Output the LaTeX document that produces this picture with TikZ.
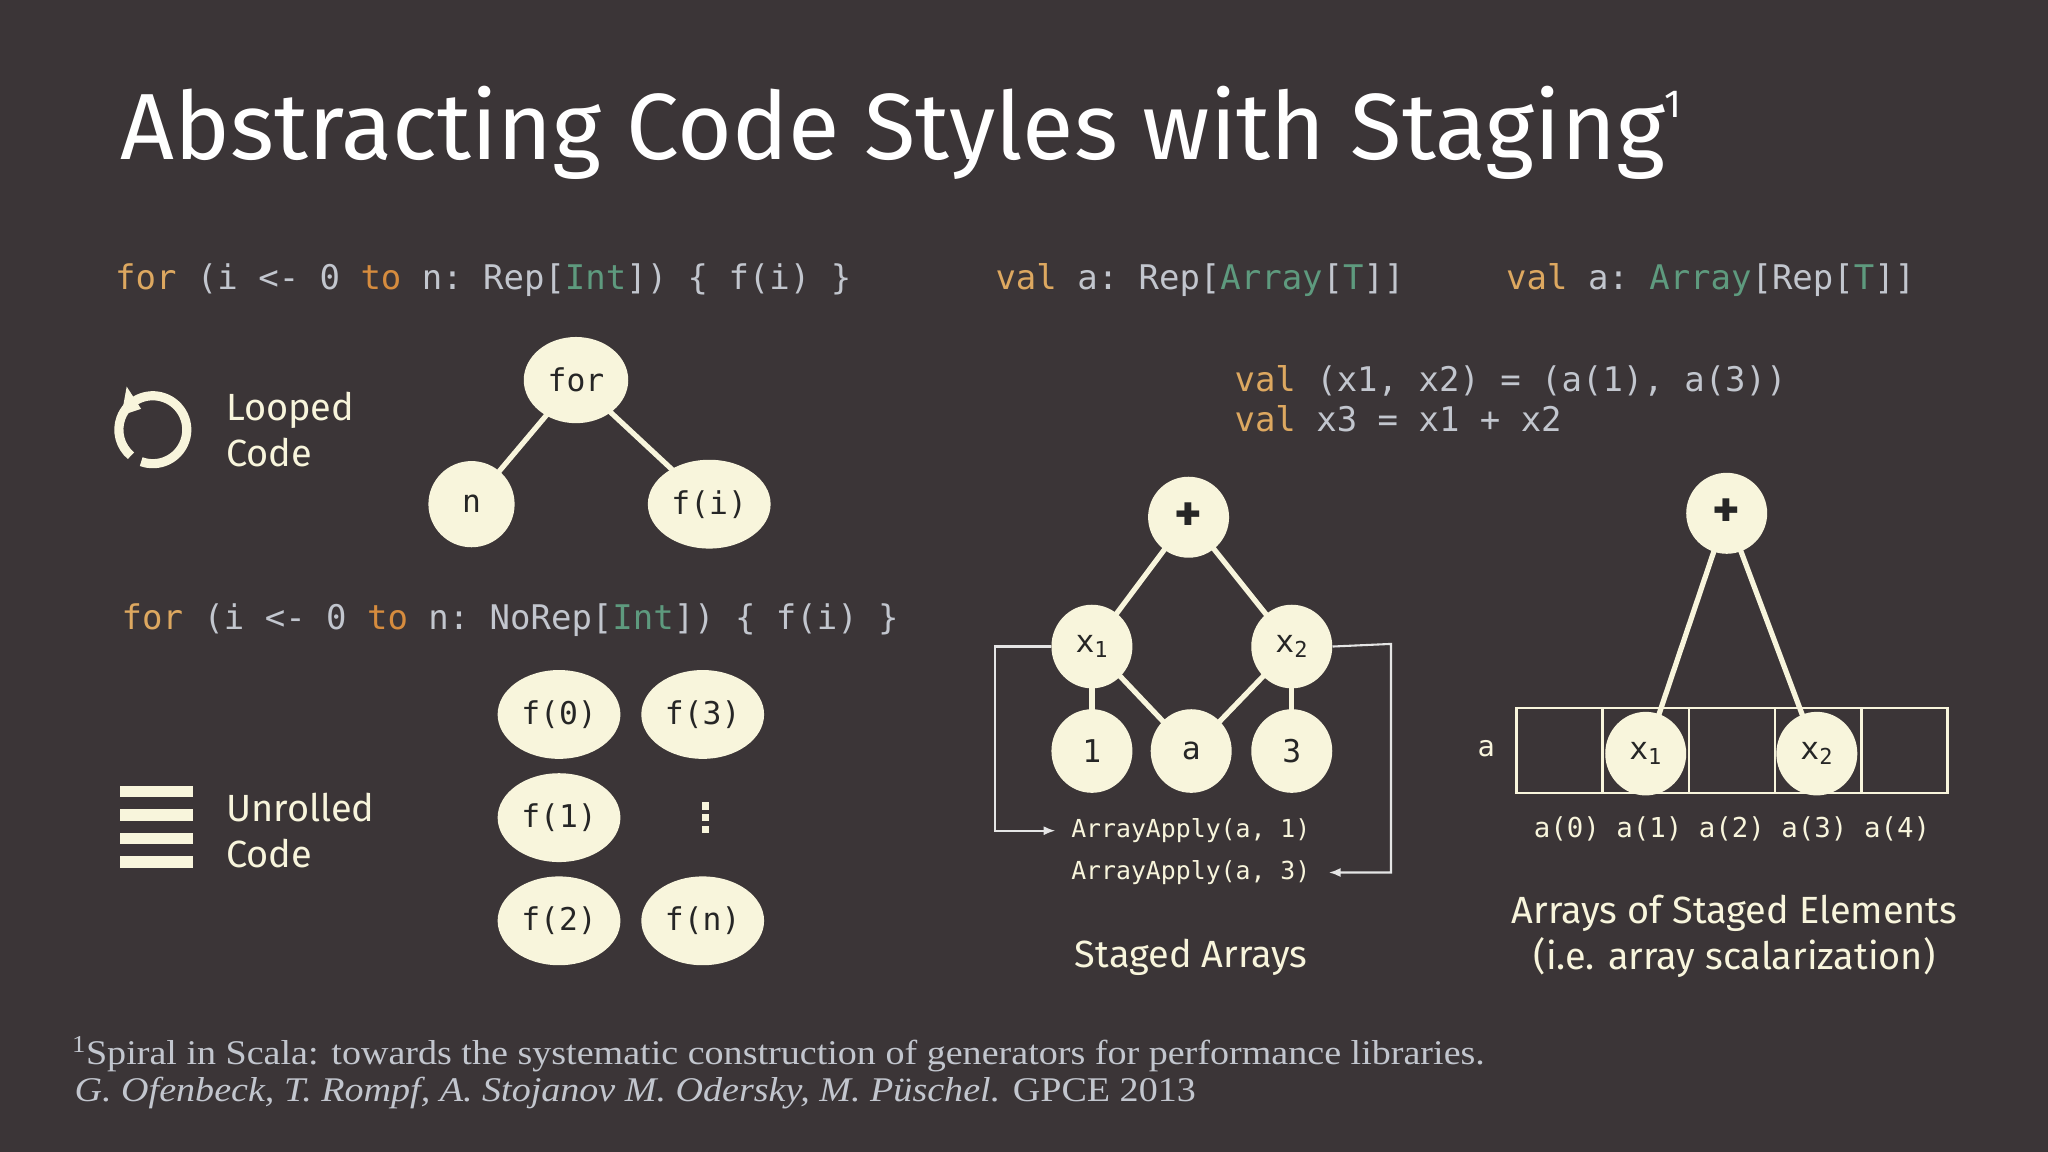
\documentclass[tikz,border=0pt]{standalone}
\usepackage{fontspec}
\setmainfont{Liberation Serif}
\setsansfont{Fira Sans}
\setmonofont{DejaVu Sans Mono}
\newfontfamily\fnfont[FakeStretch=1.1]{Liberation Serif}
\usetikzlibrary{arrows.meta,shapes.geometric}
\pgfdeclarelayer{bgl}
\pgfsetlayers{bgl,main}
\definecolor{bg}{HTML}{3B3537}
\definecolor{cream}{HTML}{F8F5DC}
\definecolor{kw}{HTML}{DDA860}
\definecolor{kw2}{HTML}{D68C3E}
\definecolor{gr}{HTML}{5E9A7E}
\definecolor{cd}{HTML}{C2C6CE}
\newcommand{\K}[1]{\textcolor{kw}{#1}}
\newcommand{\KT}[1]{\textcolor{kw2}{#1}}
\newcommand{\G}[1]{\textcolor{gr}{#1}}
\tikzset{
 nd/.style={ellipse, fill=cream, inner sep=0pt, text=black!85, font=\ttfamily\fontsize{24}{24}\selectfont},
 code/.style={anchor=base west, text=cd, font=\ttfamily\fontsize{26}{26}\selectfont, inner sep=0pt},
 lbl/.style={anchor=west, text=cream, font=\sffamily\fontsize{29}{35}\selectfont, align=left, inner sep=0pt},
 edge/.style={cream, line width=4pt},
 wire/.style={white!90!black, line width=1.6pt}
}
\begin{document}
\begin{tikzpicture}[x=1pt,y=-1pt]
\begin{pgfonlayer}{bgl}
\fill[bg] (0,0) rectangle (1568,882);
\end{pgfonlayer}
\useasboundingbox (0,0) rectangle (1568,882);
\node[anchor=base west, text=white, font=\sffamily\fontsize{72}{72}\selectfont, inner sep=0pt] (title) at (92,122) {Abstracting Code Styles with Staging\raisebox{0.45em}{\fontsize{30}{30}\selectfont 1}};
% left code
\node[code] (c1) at (88,222) {\K{for} (i <- 0 \KT{to} n: Rep[\G{Int}]) \{ f(i) \}};
\node[code] (c2) at (93,482) {\K{for} (i <- 0 \KT{to} n: NoRep[\G{Int}]) \{ f(i) \}};
% loop icon
\draw[cream, line width=7pt] (117,329) ++(110:26) arc[start angle=110, end angle=-230, radius=26];
\fill[cream] (97,296) -- (108,313) -- (93,318) -- cycle;
\node[lbl] (looped) at (173,329) {Looped\\Code};
% unrolled icon
\foreach \yy in {606,624,642,660}{\fill[cream] (92,\yy-4.5) rectangle (148,\yy+4.5);}
\node[lbl] (unrolled) at (173,636) {Unrolled\\Code};
% looped tree
\node[nd, minimum width=80, minimum height=66] (for) at (441,291) {for};
\node[nd, minimum width=66, minimum height=66] (n) at (361,386) {n};
\node[nd, minimum width=94, minimum height=68] (fi) at (543,386) {f(i)};
\begin{pgfonlayer}{bgl}
\draw[edge] (for.center) -- (n.center);
\draw[edge] (for.center) -- (fi.center);
\end{pgfonlayer}
\foreach \nm/\t/\xx/\yy in {f0/f(0)/428/547, f3/f(3)/538/547, f1/f(1)/428/626, f2/f(2)/428/705, fn/f(n)/538/705}
  \node[nd, minimum width=94, minimum height=68] (\nm) at (\xx,\yy) {\t};
\foreach \dy [count=\k] in {-9,0,9}\fill[cream] (537.5,626+\dy-2.8) rectangle (542.5,626+\dy+2.8);
% right code
\node[code] (c3) at (762,222) {\K{val} a: Rep[\G{Array}[\G{T}]]};
\node[code] (c4) at (1153,222) {\K{val} a: \G{Array}[Rep[\G{T}]]};
\node[code] (c5) at (945,300) {\K{val} (x1, x2) = (a(1), a(3))};
\node[code] (c6) at (945,330) {\K{val} x3 = x1 + x2};
% staged arrays
\tikzset{sm/.style={nd, minimum width=62, minimum height=64}}
\node[sm, minimum height=62, font=\sffamily\bfseries\fontsize{40}{40}\selectfont] (p1) at (910,396) {+};
\node[sm] (x1) at (836,495) {x\textsubscript{1}};
\node[sm] (x2) at (989,495) {x\textsubscript{2}};
\node[sm] (one) at (836,575) {1};
\node[sm] (aa) at (912,575) {a};
\node[sm] (three) at (989,575) {3};
\begin{pgfonlayer}{bgl}
\draw[edge] (p1.center) -- (x1.center); \draw[edge] (p1.center) -- (x2.center);
\draw[edge] (x1.center) -- (one.center); \draw[edge] (x1.center) -- (aa.center);
\draw[edge] (x2.center) -- (aa.center); \draw[edge] (x2.center) -- (three.center);
\end{pgfonlayer}
\tikzset{aa/.style={anchor=west, text=cream, font=\ttfamily\fontsize{19}{19}\selectfont, inner sep=0pt}}
\node[aa] (ap1) at (820,636) {ArrayApply(a, 1)};
\node[aa] (ap3) at (820,668) {ArrayApply(a, 3)};
\draw[wire, -{Latex[length=9pt,width=7pt]}] (x1.west) -- (762,495) -- (762,636) -- ([xshift=-12pt]ap1.west);
\draw[wire, -{Latex[length=9pt,width=7pt]}] (x2.east) -- (1065,493) -- (1065,668) -- ([xshift=14pt]ap3.east);
\node[text=cream, font=\sffamily\fontsize{29}{29}\selectfont] (sa) at (912,733) {Staged Arrays};
% arrays of staged elements
\foreach \i in {0,...,4}{\draw[cream, line width=2pt] (1161+66*\i,542) rectangle (1227+66*\i,607);}
\node[sm] (y1) at (1260,577) {x\textsubscript{1}};
\node[sm] (y2) at (1391,577) {x\textsubscript{2}};
\node[sm, minimum height=62, font=\sffamily\bfseries\fontsize{40}{40}\selectfont] (p2) at (1322,393) {+};
\begin{pgfonlayer}{bgl}
\draw[edge] (p2.center) -- (y1.center);
\draw[edge] (p2.center) -- (y2.center);
\end{pgfonlayer}
\node[text=cream, font=\ttfamily\fontsize{22}{22}\selectfont] (alab) at (1138,573) {a};
\node[text=cream, font=\ttfamily\fontsize{21}{21}\selectfont] (idx) at (1326,635) {a(0) a(1) a(2) a(3) a(4)};
\node[text=cream, align=center, font=\sffamily\fontsize{29}{35}\selectfont] (ase) at (1328,717) {Arrays of Staged Elements\\(i.e. array scalarization)};
% footnote
\node[anchor=base west, text=cd, font=\fnfont\fontsize{26.5}{26.5}\selectfont, inner sep=0pt] (fn1) at (55,815) {\textsuperscript{1}Spiral in Scala: towards the systematic construction of generators for performance libraries.};
\node[anchor=base west, text=cd, font=\fnfont\fontsize{26.5}{26.5}\selectfont, inner sep=0pt] (fn2) at (57,843) {\textit{G. Ofenbeck, T. Rompf, A. Stojanov M. Odersky, M. Püschel.} GPCE 2013};
\end{tikzpicture}
\end{document}
